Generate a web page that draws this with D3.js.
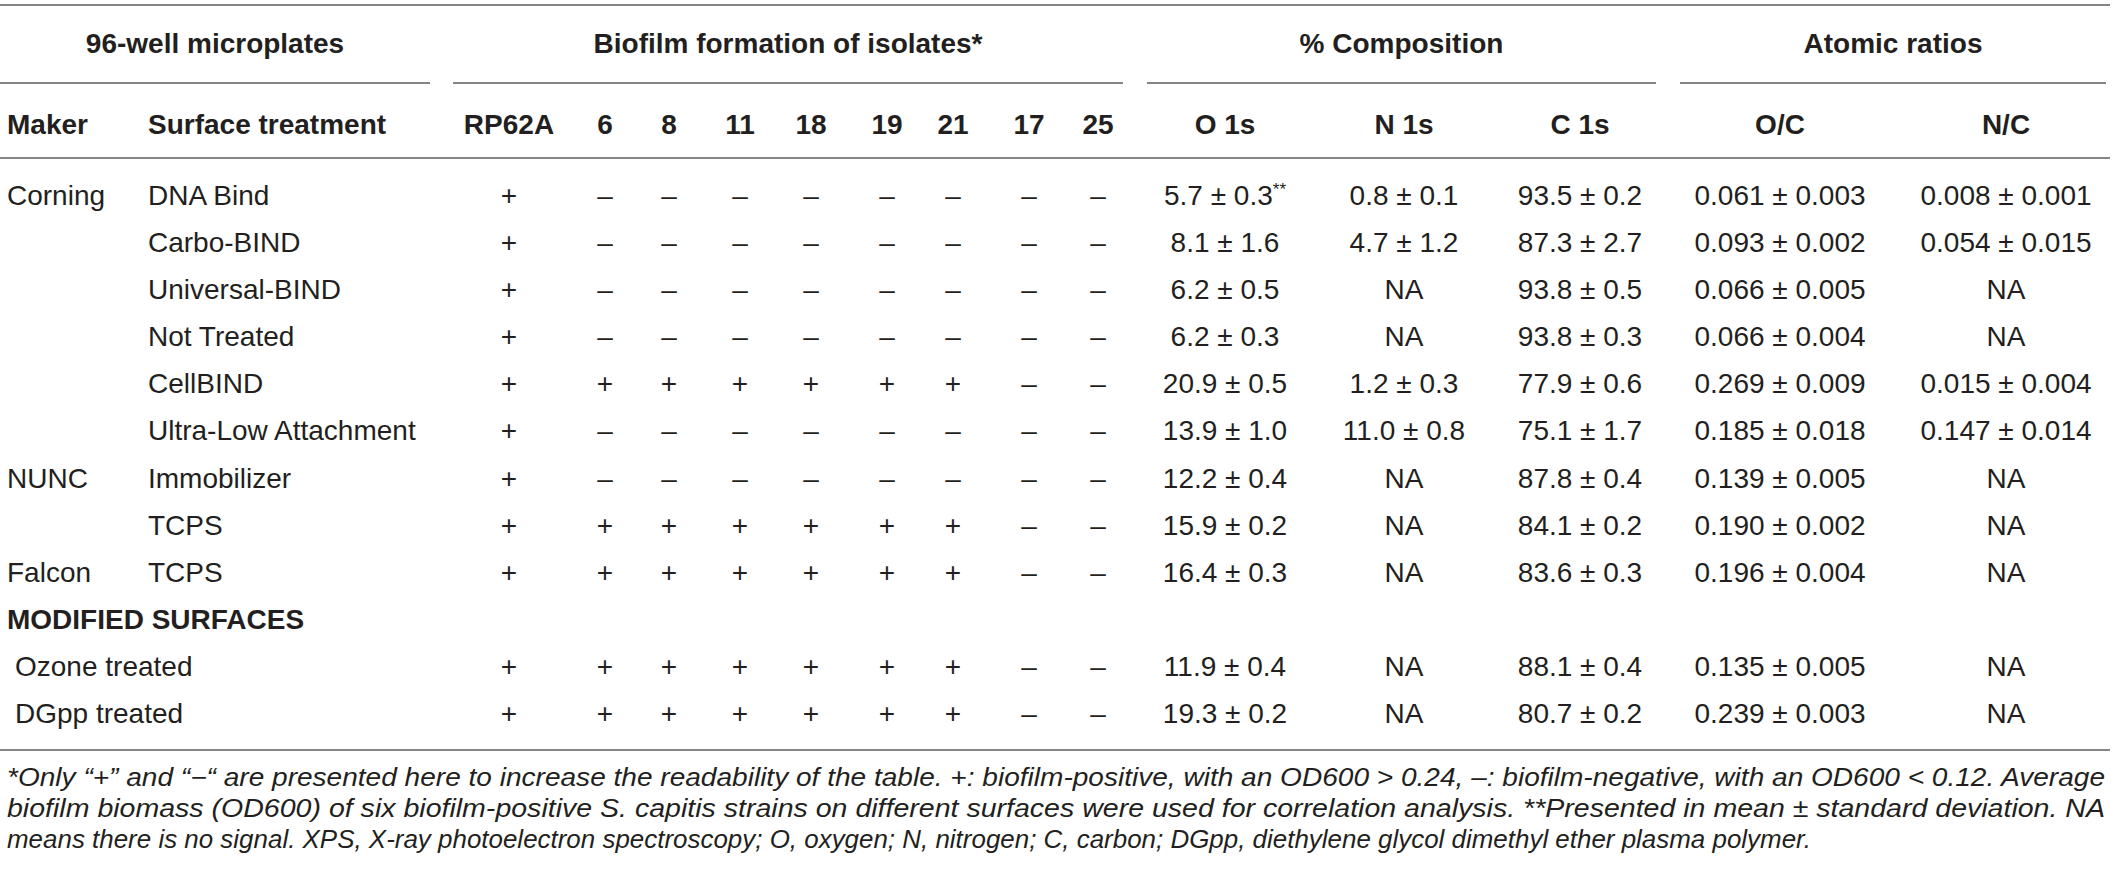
<!DOCTYPE html>
<html>
<head>
<meta charset="utf-8">
<script src="https://cdn.jsdelivr.net/npm/d3@7"></script>
<style>
  body { margin: 0; background: #fff; }
  svg text { font-family: "Liberation Sans", Arial, sans-serif; fill: #231f20; }
</style>
</head>
<body>
<svg id="table" width="2118" height="873"></svg>
<script>
// table content
const groupHeaders = ["96-well microplates", "Biofilm formation of isolates*", "% Composition", "Atomic ratios"];
const columnHeaders = ["Maker", "Surface treatment", "RP62A", "6", "8", "11", "18", "19", "21", "17", "25", "O 1s", "N 1s", "C 1s", "O/C", "N/C"];
const isolates = ["RP62A", "6", "8", "11", "18", "19", "21", "17", "25"];

const makerLabels = ["Corning", "", "", "", "", "", "NUNC", "", "Falcon", "MODIFIED SURFACES", " Ozone treated", " DGpp treated"];
const surfaceLabels = ["DNA Bind", "Carbo-BIND", "Universal-BIND", "Not Treated", "CellBIND", "Ultra-Low Attachment", "Immobilizer", "TCPS", "TCPS", "", "", ""];

// + / – per isolate, one string per row
const biofilm = ["+--------", "+--------", "+--------", "+--------", "+++++++--", "+--------",
                 "+--------", "+++++++--", "+++++++--", "", "+++++++--", "+++++++--"];

// [mean, sd], null = NA, undefined = empty row
const o1s = [[5.7, 0.3], [8.1, 1.6], [6.2, 0.5], [6.2, 0.3], [20.9, 0.5], [13.9, 1.0], [12.2, 0.4], [15.9, 0.2], [16.4, 0.3], undefined, [11.9, 0.4], [19.3, 0.2]];
const n1s = [[0.8, 0.1], [4.7, 1.2], null, null, [1.2, 0.3], [11.0, 0.8], null, null, null, undefined, null, null];
const c1s = [[93.5, 0.2], [87.3, 2.7], [93.8, 0.5], [93.8, 0.3], [77.9, 0.6], [75.1, 1.7], [87.8, 0.4], [84.1, 0.2], [83.6, 0.3], undefined, [88.1, 0.4], [80.7, 0.2]];
const oc = [[0.061, 0.003], [0.093, 0.002], [0.066, 0.005], [0.066, 0.004], [0.269, 0.009], [0.185, 0.018], [0.139, 0.005], [0.190, 0.002], [0.196, 0.004], undefined, [0.135, 0.005], [0.239, 0.003]];
const nc = [[0.008, 0.001], [0.054, 0.015], null, null, [0.015, 0.004], [0.147, 0.014], null, null, null, undefined, null, null];

const footnotes = [
  "*Only \u201c+\u201d and \u201c\u2212\u201c are presented here to increase the readability of the table. +: biofilm-positive, with an OD600 > 0.24, \u2013: biofilm-negative, with an OD600 < 0.12. Average",
  "biofilm biomass (OD600) of six biofilm-positive S. capitis strains on different surfaces were used for correlation analysis. **Presented in mean \u00b1 standard deviation. NA",
  "means there is no signal. XPS, X-ray photoelectron spectroscopy; O, oxygen; N, nitrogen; C, carbon; DGpp, diethylene glycol dimethyl ether plasma polymer."
];

const svg = d3.select("#table");
const fs = 28;

// column centres
const colX = d3.scaleOrdinal()
    .domain(columnHeaders)
    .range([7, 148, 509, 605, 669, 740, 811, 887, 953, 1029, 1098, 1225, 1404, 1580, 1780, 2006]);

// group spans (start, end of the rule under each group)
const groupX = d3.scaleOrdinal()
    .domain(groupHeaders)
    .range([[0, 430], [453, 1123], [1147, 1656], [1680, 2106]]);

const rowY = d3.scalePoint()
    .domain(d3.range(makerLabels.length))
    .range([205, 723]);

// rules
const rules = [[0, 2110, 5], [0, 2110, 158], [0, 2110, 750]];
groupHeaders.forEach(g => rules.push([groupX(g)[0], groupX(g)[1], 83]));
svg.selectAll("line.rule")
  .data(rules)
  .join("line")
    .attr("class", "rule")
    .attr("x1", d => d[0]).attr("x2", d => d[1])
    .attr("y1", d => d[2]).attr("y2", d => d[2])
    .attr("stroke", "#858585")
    .attr("stroke-width", 2);

// group headers
svg.selectAll("text.group")
  .data(groupHeaders)
  .join("text")
    .attr("class", "group")
    .attr("x", d => (groupX(d)[0] + groupX(d)[1]) / 2)
    .attr("y", 53)
    .attr("text-anchor", "middle")
    .attr("font-size", fs)
    .attr("font-weight", "bold")
    .text(d => d);

// column headers
svg.selectAll("text.colhead")
  .data(columnHeaders)
  .join("text")
    .attr("class", "colhead")
    .attr("x", d => colX(d))
    .attr("y", 134)
    .attr("text-anchor", (d, i) => i < 2 ? "start" : "middle")
    .attr("font-size", fs)
    .attr("font-weight", "bold")
    .text(d => d);

// maker column
svg.selectAll("text.maker")
  .data(makerLabels)
  .join("text")
    .attr("class", "maker")
    .attr("x", (d, i) => d.startsWith(" ") ? 15 : colX("Maker"))
    .attr("y", (d, i) => rowY(i))
    .attr("font-size", fs)
    .attr("font-weight", (d, i) => i === 9 ? "bold" : "normal")
    .text(d => d.trim());

svg.selectAll("text.surface")
  .data(surfaceLabels)
  .join("text")
    .attr("class", "surface")
    .attr("x", colX("Surface treatment"))
    .attr("y", (d, i) => rowY(i))
    .attr("font-size", fs)
    .text(d => d);

// biofilm marks
const marks = [];
biofilm.forEach((s, r) => {
  s.split("").forEach((c, k) => marks.push({row: r, col: isolates[k], sign: c === "+" ? "+" : "\u2013"}));
});
svg.selectAll("text.mark")
  .data(marks)
  .join("text")
    .attr("class", "mark")
    .attr("x", d => colX(d.col))
    .attr("y", d => rowY(d.row))
    .attr("text-anchor", "middle")
    .attr("font-size", fs)
    .text(d => d.sign);

// numeric columns
const numCols = [
  {key: "O 1s", vals: o1s, fmt: d3.format(".1f")},
  {key: "N 1s", vals: n1s, fmt: d3.format(".1f")},
  {key: "C 1s", vals: c1s, fmt: d3.format(".1f")},
  {key: "O/C", vals: oc, fmt: d3.format(".3f")},
  {key: "N/C", vals: nc, fmt: d3.format(".3f")}
];
const cells = [];
numCols.forEach(c => {
  c.vals.forEach((v, r) => {
    if (v === undefined) return;
    cells.push({
      row: r, col: c.key,
      txt: v === null ? "NA" : c.fmt(v[0]) + " \u00b1 " + c.fmt(v[1]),
      note: c.key === "O 1s" && r === 0
    });
  });
});
const cellText = svg.selectAll("text.cell")
  .data(cells)
  .join("text")
    .attr("class", "cell")
    .attr("x", d => colX(d.col) + (d.note ? 0 : 0))
    .attr("y", d => rowY(d.row))
    .attr("text-anchor", "middle")
    .attr("font-size", fs);
cellText.append("tspan").text(d => d.txt);
cellText.filter(d => d.note).append("tspan")
    .attr("font-size", 17)
    .attr("dy", -10)
    .text("**");

// footnote
svg.selectAll("text.foot")
  .data(footnotes)
  .join("text")
    .attr("class", "foot")
    .attr("x", 7)
    .attr("y", (d, i) => 786 + i * 31)
    .attr("font-size", 25)
    .attr("font-style", "italic")
    .attr("textLength", (d, i) => i < 2 ? 2098 : 1804)
    .attr("lengthAdjust", "spacingAndGlyphs")
    .text(d => d);
</script>
</body>
</html>
